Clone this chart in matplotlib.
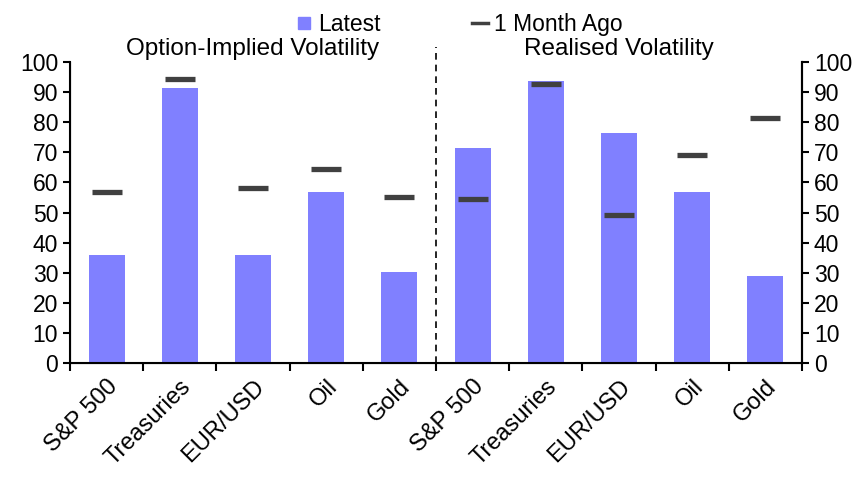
import numpy as np
import matplotlib.pyplot as plt
from matplotlib.lines import Line2D

plt.rcParams['font.family'] = ['Liberation Sans', 'DejaVu Sans']

categories = ["S&P 500", "Treasuries", "EUR/USD", "Oil", "Gold",
              "S&P 500", "Treasuries", "EUR/USD", "Oil", "Gold"]
latest = [36, 91.4, 36, 56.8, 30.1, 71.4, 93.8, 76.4, 56.8, 28.8]
month_ago = [56.8, 94.4, 58.2, 64.4, 55.1, 54.4, 92.6, 49.1, 69.1, 81.4]

bar_color = "#8080ff"
mark_color = "#404040"

fig = plt.figure(figsize=(8.68, 4.91), dpi=100)
ax = fig.add_axes([70 / 868, 1 - 363 / 491, 732 / 868, 301 / 491])

x = np.arange(len(categories))
ax.bar(x, latest, width=0.49, color=bar_color, zorder=2)
ax.plot(x, month_ago, linestyle="none", marker="_", markersize=21, mew=3.8,
        color=mark_color, zorder=3)

ax.set_xlim(-0.5, 9.5)
ax.set_ylim(0, 100)
ax.set_yticks(range(0, 101, 10))
ax.tick_params(axis="y", labelsize=16.5, direction="out", length=5, width=1.5)
ax.set_xticks(np.arange(-0.5, 10, 1))
ax.set_xticklabels([])
ax.tick_params(axis="x", direction="out", length=6, width=1.5)
ax.set_xticks(x, minor=True)
ax.set_xticklabels(categories, minor=True, rotation=45, ha="right",
                   rotation_mode="anchor", fontsize=17)
ax.tick_params(axis="x", which="minor", length=0, pad=9)

ax.spines["top"].set_visible(False)
for s in ["left", "bottom", "right"]:
    ax.spines[s].set_linewidth(1.5)

ax2 = ax.twinx()
ax2.set_ylim(0, 100)
ax2.set_yticks(range(0, 101, 10))
ax2.tick_params(axis="y", labelsize=16.5, direction="out", length=5, width=1.5)
ax2.spines["top"].set_visible(False)
ax2.spines["right"].set_linewidth(1.5)

ax.plot([4.5, 4.5], [0, 105], linestyle=(0, (4, 3)), color="black",
        linewidth=1.2, clip_on=False, zorder=4)

ax.text(2, 100.8, "Option-Implied Volatility", ha="center", va="bottom", fontsize=17.5)
ax.text(7, 100.8, "Realised Volatility", ha="center", va="bottom", fontsize=17.5)

handles = [
    Line2D([], [], linestyle="none", marker="s", markersize=9, color=bar_color),
    Line2D([], [], color=mark_color, linewidth=2.5),
]
fig.legend(handles, ["Latest", "1 Month Ago"], loc="upper center",
           bbox_to_anchor=(0.529, 1.015), ncol=2, frameon=False, fontsize=16.5,
           handlelength=0.7, handletextpad=0.25, columnspacing=4.0)

fig.savefig("out.png", dpi=100)
